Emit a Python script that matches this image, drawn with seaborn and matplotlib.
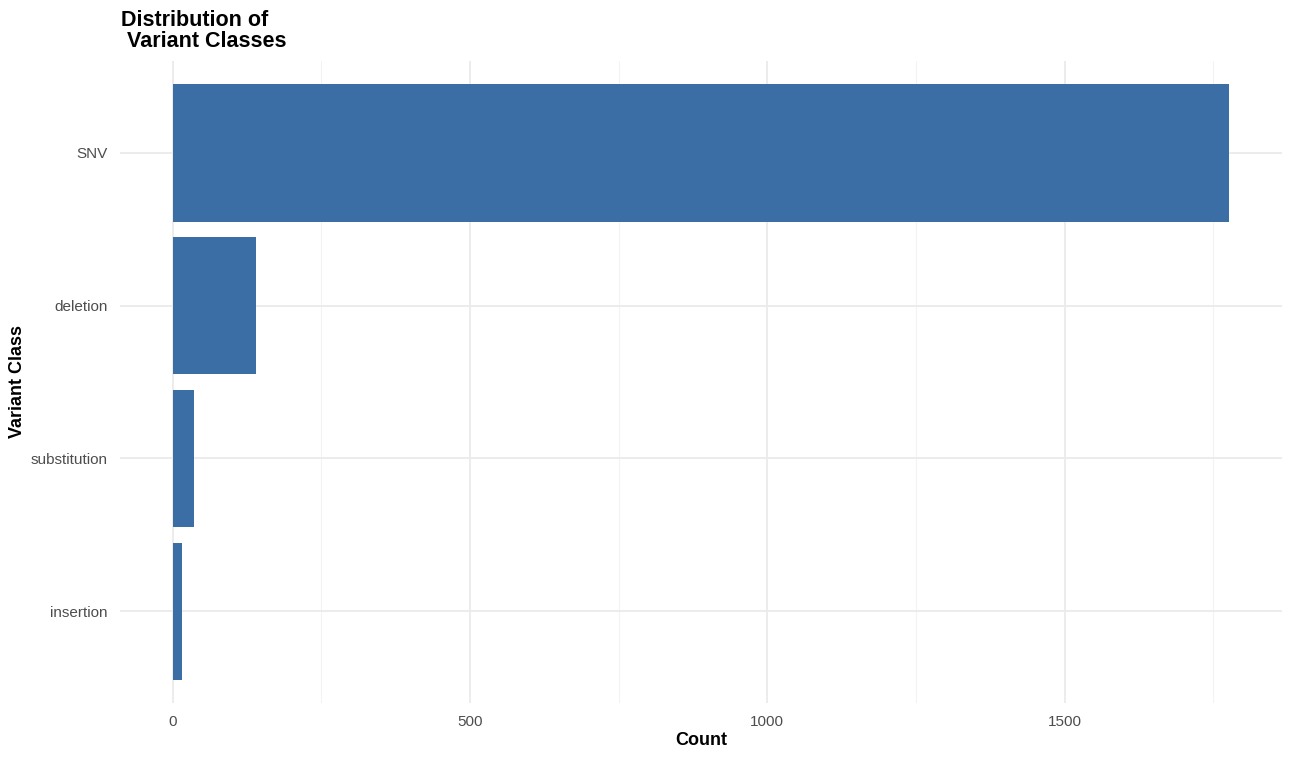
import matplotlib.pyplot as plt
import seaborn as sns
import pandas as pd
from matplotlib.ticker import MultipleLocator

variant_classes = ["SNV", "deletion", "substitution", "insertion"]
counts = [1777, 140, 35, 15]

df = pd.DataFrame({"variant_class": variant_classes, "count": counts})

sns.set_theme(style="white")
plt.rcParams["font.family"] = ["Liberation Sans", "DejaVu Sans"]

fig = plt.figure(figsize=(12.92, 7.57), dpi=100)
ax = fig.add_axes([120 / 1292, 1 - 703 / 757, (1282 - 120) / 1292, (703 - 61) / 757])

sns.barplot(data=df, x="count", y="variant_class", order=variant_classes,
            color="#3A6EA5", saturation=1, width=0.9, linewidth=0, ax=ax, zorder=3)

xmax = max(counts)
ax.set_xlim(-0.05 * xmax, 1.05 * xmax)
ax.set_ylim(len(variant_classes) - 0.4, -0.6)

ax.xaxis.set_major_locator(MultipleLocator(500))
ax.xaxis.set_minor_locator(MultipleLocator(250))
ax.grid(which="major", color="#EBEBEB", linewidth=1.3, zorder=0)
ax.grid(which="minor", axis="x", color="#F3F3F3", linewidth=0.8, zorder=0)
ax.set_axisbelow(True)
for s in ax.spines.values():
    s.set_visible(False)

ax.tick_params(axis="both", which="both", length=0, labelsize=11,
               labelcolor="#4D4D4D")
ax.tick_params(axis="x", pad=9)
ax.tick_params(axis="y", pad=9)

ax.set_xlabel("Count", fontsize=13, fontweight="bold", color="black", labelpad=2)
ax.set_ylabel("Variant Class", fontsize=13, fontweight="bold", color="black", labelpad=3)

fig.text(121 / 1292, 1 - 10 / 757, "Distribution of\n Variant Classes",
         fontsize=15.5, fontweight="bold", color="black", ha="left", va="top",
         linespacing=1.0)

fig.savefig("out.png", dpi=100)
